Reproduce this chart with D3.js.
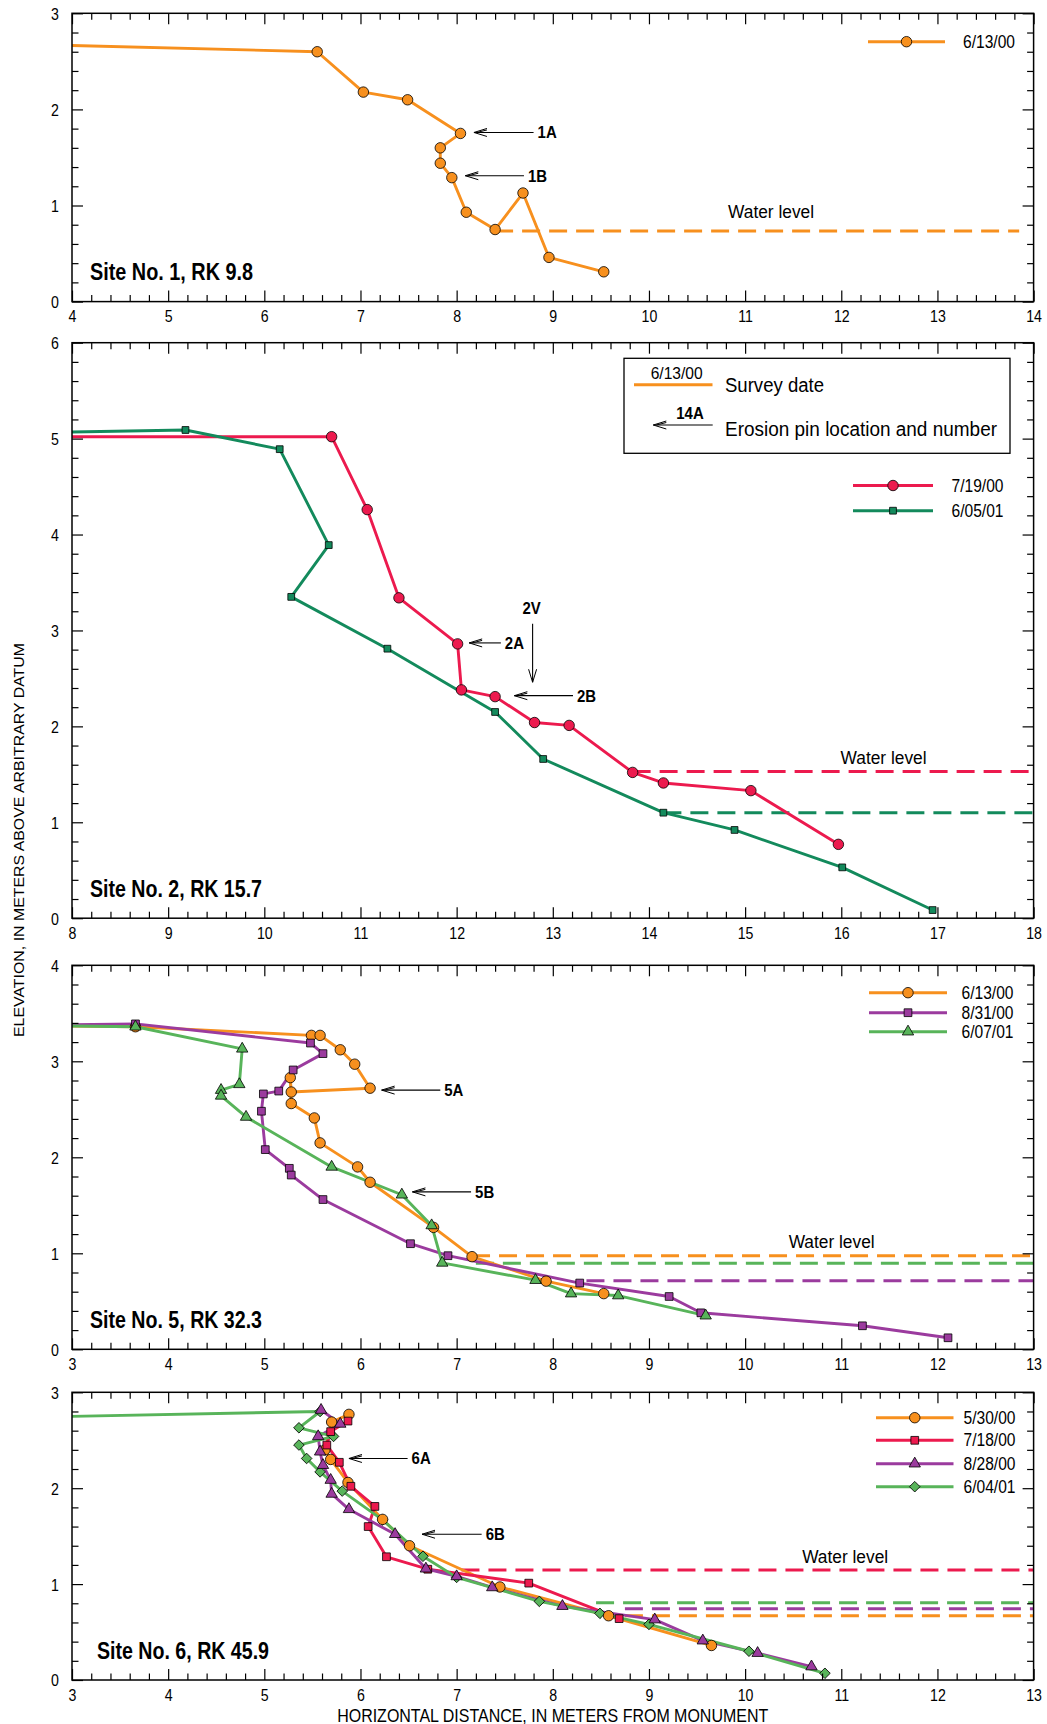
<!DOCTYPE html>
<html><head><meta charset="utf-8">
<script src="https://cdn.jsdelivr.net/npm/d3@7"></script>
<style>body{margin:0;background:#fff}</style>
</head><body>
<svg id="c" width="1047" height="1724" xmlns="http://www.w3.org/2000/svg"></svg>
<script>
// ---------- DATA ----------
// Site 1
const site1_061300 = [[3.9,2.668],[6.55,2.60],[7.03,2.18],[7.49,2.10],[8.04,1.75],[7.83,1.60],[7.83,1.44],[7.95,1.29],[8.10,0.93],[8.40,0.75],[8.69,1.13],[8.96,0.46],[9.53,0.31]];
const site1_water_061300 = [8.40, 13.85, 0.735];
const site1_pins = [["1A",8.18,8.80,1.76],["1B",8.09,8.70,1.31]];
// Site 2
const site2_071900 = [[7.8,5.02],[10.70,5.02],[11.07,4.26],[11.40,3.34],[12.01,2.86],[12.05,2.38],[12.40,2.31],[12.81,2.04],[13.17,2.01],[13.83,1.52],[14.15,1.41],[15.06,1.33],[15.97,0.77]];
const site2_060501 = [[7.8,5.065],[9.18,5.09],[10.16,4.89],[10.67,3.89],[10.28,3.35],[11.28,2.81],[12.40,2.15],[12.90,1.66],[14.15,1.10],[14.89,0.92],[16.01,0.53],[16.95,0.085]];
const site2_water_071900 = [13.83, 18, 1.53];
const site2_water_060501 = [14.15, 18, 1.10];
const site2_pins = [["2A",12.13,12.46,2.87],["2B",12.60,13.21,2.32]];
const site2_vpin = ["2V",12.79,3.07,2.46];
// Site 5
const site5_061300 = [[2.8,3.37],[3.66,3.36],[5.49,3.27],[5.58,3.27],[5.79,3.12],[5.94,2.97],[6.10,2.72],[5.28,2.68],[5.27,2.83],[5.28,2.56],[5.52,2.41],[5.58,2.15],[5.97,1.90],[6.10,1.74],[6.76,1.27],[7.16,0.965],[7.93,0.71],[8.53,0.58]];
const site5_083100 = [[2.8,3.38],[3.66,3.39],[5.48,3.19],[5.61,3.08],[5.30,2.91],[5.15,2.69],[4.99,2.66],[4.97,2.48],[5.01,2.08],[5.26,1.885],[5.28,1.815],[5.61,1.56],[6.52,1.10],[6.91,0.975],[8.28,0.69],[9.21,0.55],[9.54,0.38],[11.22,0.245],[12.11,0.12]];
const site5_060701 = [[2.8,3.37],[3.66,3.36],[4.77,3.13],[4.74,2.76],[4.55,2.70],[4.55,2.64],[4.81,2.42],[5.70,1.90],[6.43,1.61],[6.74,1.29],[6.85,0.90],[7.82,0.72],[8.19,0.58],[8.68,0.56],[9.59,0.35]];
const site5_water_061300 = [7.16, 13, 0.975];
const site5_water_083100 = [8.35, 13, 0.715];
const site5_water_060701 = [7.20, 13, 0.896];
const site5_pins = [["5A",6.22,6.83,2.70],["5B",6.54,7.15,1.64]];
// Site 6
const site6_053000 = [[5.88,2.77],[5.70,2.69],[5.63,2.40],[5.69,2.30],[5.87,2.06],[6.23,1.675],[6.51,1.40],[7.45,0.97],[8.58,0.67],[9.65,0.36]];
const site6_071800 = [[5.87,2.70],[5.69,2.59],[5.65,2.45],[5.78,2.27],[5.90,2.02],[6.15,1.81],[6.08,1.60],[6.27,1.285],[6.70,1.155],[7.75,1.01],[8.69,0.64]];
const site6_082800 = [[5.59,2.815],[5.79,2.67],[5.56,2.54],[5.58,2.38],[5.61,2.24],[5.69,2.085],[5.70,1.94],[5.88,1.78],[6.36,1.52],[6.68,1.16],[7.00,1.08],[7.37,0.965],[8.10,0.77],[9.06,0.63],[9.56,0.41],[10.13,0.28],[10.69,0.14]];
const site6_060401 = [[2.8,2.745],[5.58,2.80],[5.36,2.63],[5.72,2.54],[5.36,2.45],[5.44,2.31],[5.58,2.17],[5.81,1.97],[6.23,1.67],[6.65,1.29],[7.00,1.07],[7.86,0.82],[8.49,0.695],[9.00,0.58],[10.04,0.30],[10.83,0.07]];
const site6_water_053000 = [8.75, 13, 0.67];
const site6_water_071800 = [7.05, 13, 1.147];
const site6_water_082800 = [8.75, 13, 0.744];
const site6_water_060401 = [8.45, 13, 0.806];
const site6_pins = [["6A",5.88,6.49,2.31],["6B",6.64,7.26,1.52]];

const siteTitles = ["Site No. 1, RK 9.8","Site No. 2, RK 15.7","Site No. 5, RK 32.3","Site No. 6, RK 45.9"];
const waterLabelPos = [[11.27,0.93],[16.44,1.67],[10.90,1.12],[11.04,1.28]];

// ---------- STYLE ----------
const ORANGE="#F7901E", RED="#EC1A4E", DKGREEN="#138A5C", GREEN="#58B45A", PURPLE="#9B3B9E";
const SANS="'Liberation Sans',Arial,Helvetica,sans-serif";
const L=72, R=1033.6;

const panels = [
  {top:13.3,bottom:301.6,xd:[4,14],yd:[0,3],
   series:[{d:site1_061300,c:ORANGE,s:"circle",lab:"6/13/00",w:site1_water_061300}],
   pins:site1_pins, leg:{x0:868,x1:945,tx:963,ys:[41.7]}},
  {top:342.7,bottom:918.2,xd:[8,18],yd:[0,6],
   series:[{d:site2_071900,c:RED,s:"circle",lab:"7/19/00",w:site2_water_071900},
           {d:site2_060501,c:DKGREEN,s:"squareS",lab:"6/05/01",w:site2_water_060501}],
   pins:site2_pins, vpin:site2_vpin, leg:{x0:853,x1:933,tx:951.5,ys:[485.5,510.7]}, key:true},
  {top:965.3,bottom:1349.3,xd:[3,13],yd:[0,4],
   series:[{d:site5_061300,c:ORANGE,s:"circle",lab:"6/13/00",w:site5_water_061300},
           {d:site5_083100,c:PURPLE,s:"square",lab:"8/31/00",w:site5_water_083100},
           {d:site5_060701,c:GREEN,s:"triangle",lab:"6/07/01",w:site5_water_060701}],
   pins:site5_pins, leg:{x0:869,x1:947,tx:961.5,ys:[992.7,1012.7,1031.7]}},
  {top:1392.3,bottom:1680,xd:[3,13],yd:[0,3],
   series:[{d:site6_053000,c:ORANGE,s:"circle",lab:"5/30/00",w:site6_water_053000},
           {d:site6_071800,c:RED,s:"square",lab:"7/18/00",w:site6_water_071800},
           {d:site6_082800,c:PURPLE,s:"triangle",lab:"8/28/00",w:site6_water_082800},
           {d:site6_060401,c:GREEN,s:"diamond",lab:"6/04/01",w:site6_water_060401}],
   pins:site6_pins, leg:{x0:876,x1:953.5,tx:963.5,ys:[1417.7,1440.3,1463.7,1486.7]},
   markerOrder:[3,0,1,2]}
];

const svg=d3.select("#c");
svg.append("rect").attr("width",1047).attr("height",1724).attr("fill","#fff");

function ntext(g,x,y,str,size,sx,opts={}){
  const t=g.append("text").attr("transform",`translate(${x},${y}) scale(${sx},1)`)
    .attr("font-family",SANS).attr("font-size",size).attr("fill","#000").text(str);
  if(opts.bold) t.attr("font-weight","bold");
  if(opts.anchor) t.attr("text-anchor",opts.anchor);
  return t;
}

function symPath(s){
  if(s==="circle") return d3.symbol(d3.symbolCircle,86)();
  if(s==="square") return d3.symbol(d3.symbolSquare,60)();
  if(s==="squareS") return d3.symbol(d3.symbolSquare,46)();
  if(s==="triangle") return d3.symbol(d3.symbolTriangle,56)();
  if(s==="diamond") return d3.symbol(d3.symbolSquare,56)();
}
function drawMarker(g,s,c,px,py){
  g.append("path").attr("d",symPath(s))
   .attr("transform",`translate(${px},${py})`+(s==="diamond"?" rotate(45)":""))
   .attr("fill",c).attr("stroke","#000").attr("stroke-width",0.8);
}
function arrowLeft(g,x0,x1,yy){
  g.append("line").attr("x1",x0).attr("x2",x1).attr("y1",yy).attr("y2",yy).attr("stroke","#000").attr("stroke-width",1.1);
  g.append("path").attr("d",`M${x0+13},${yy-4}L${x0},${yy}L${x0+13},${yy+4}M${x0+13},${yy-2.5}L${x0+3},${yy}`)
   .attr("fill","none").attr("stroke","#000").attr("stroke-width",1);
}

panels.forEach((p,i)=>{
  const x=d3.scaleLinear().domain(p.xd).range([L,R]);
  const y=d3.scaleLinear().domain(p.yd).range([p.bottom,p.top]);
  const g=svg.append("g");
  const cid="clip"+i;
  svg.append("clipPath").attr("id",cid).append("rect")
    .attr("x",L).attr("y",p.top).attr("width",R-L).attr("height",p.bottom-p.top);
  const plot=g.append("g").attr("clip-path",`url(#${cid})`);

  p.series.forEach(s=>{
    plot.append("line").attr("x1",x(s.w[0])).attr("x2",x(s.w[1])).attr("y1",y(s.w[2])).attr("y2",y(s.w[2]))
      .attr("stroke",s.c).attr("stroke-width",3).attr("stroke-dasharray","18,9");
  });
  const line=d3.line().x(d=>x(d[0])).y(d=>y(d[1]));
  p.series.forEach(s=>{
    plot.append("path").attr("d",line(s.d)).attr("fill","none").attr("stroke",s.c)
      .attr("stroke-width",2.9).attr("stroke-linejoin","round");
  });
  const order=p.markerOrder||p.series.map((_,k)=>k);
  order.forEach(k=>{
    const s=p.series[k];
    s.d.forEach(d=>{ if(d[0]>p.xd[0]) drawMarker(plot,s.s,s.c,x(d[0]),y(d[1])); });
  });

  const minor=d3.range(p.xd[0],p.xd[1]+1e-6,0.2).filter(v=>Math.abs(v-Math.round(v))>1e-6);
  const major=d3.range(p.xd[0],p.xd[1]+1e-6,1);
  const yminor=d3.range(p.yd[0],p.yd[1]+1e-6,0.2).filter(v=>Math.abs(v-Math.round(v))>1e-6);
  const ymajor=d3.range(p.yd[0],p.yd[1]+1e-6,1);
  const ax=(gen,tr)=>{const a=g.append("g").attr("transform",tr).call(gen); a.select(".domain").remove(); a.selectAll("line").attr("stroke","#000").attr("stroke-width",1.2); return a;};
  ax(d3.axisBottom(x).tickValues(minor).tickSize(-6.5).tickFormat(""),`translate(0,${p.bottom})`);
  ax(d3.axisTop(x).tickValues(minor).tickSize(-6.5).tickFormat(""),`translate(0,${p.top})`);
  ax(d3.axisTop(x).tickValues(major).tickSize(-11).tickFormat(""),`translate(0,${p.top})`);
  const xb=ax(d3.axisBottom(x).tickValues(major).tickSize(-11).tickPadding(9).tickFormat(d3.format("d")),`translate(0,${p.bottom})`);
  xb.selectAll("text").attr("font-family",SANS).attr("font-size",16.5).attr("fill","#000").attr("transform","scale(0.86,1)");
  ax(d3.axisLeft(y).tickValues(yminor).tickSize(-6.5).tickFormat(""),`translate(${L},0)`);
  ax(d3.axisRight(y).tickValues(yminor).tickSize(-6.5).tickFormat(""),`translate(${R},0)`);
  ax(d3.axisRight(y).tickValues(ymajor).tickSize(-11).tickFormat(""),`translate(${R},0)`);
  const yl=ax(d3.axisLeft(y).tickValues(ymajor).tickSize(-11).tickPadding(13).tickFormat(d3.format("d")),`translate(${L},0)`);
  yl.selectAll("text").attr("font-family",SANS).attr("font-size",16.5).attr("fill","#000").attr("dy","0.36em")
    .attr("x",-13/0.86).attr("transform","scale(0.86,1)");
  g.selectAll(".tick").attr("font-size",null);
  g.append("rect").attr("x",L).attr("y",p.top).attr("width",R-L).attr("height",p.bottom-p.top)
    .attr("fill","none").attr("stroke","#000").attr("stroke-width",1.5);

  p.pins.forEach(pn=>{
    const x0=x(pn[1]), x1=x(pn[2]), yy=y(pn[3]);
    arrowLeft(g,x0,x1,yy);
    ntext(g,x1+4,yy+6,pn[0],17,0.88,{bold:true});
  });
  if(p.vpin){
    const vx=x(p.vpin[1]), yt=y(p.vpin[2]), yb=y(p.vpin[3]);
    g.append("line").attr("x1",vx).attr("x2",vx).attr("y1",yt).attr("y2",yb).attr("stroke","#000").attr("stroke-width",1.1);
    g.append("path").attr("d",`M${vx-4},${yb-13}L${vx},${yb}L${vx+4},${yb-13}`).attr("fill","none").attr("stroke","#000").attr("stroke-width",1);
    ntext(g,vx-1,yt-9.5,p.vpin[0],17,0.88,{bold:true,anchor:"middle"});
  }

  g.append("text").attr("x",x(waterLabelPos[i][0])).attr("y",y(waterLabelPos[i][1])+6)
   .attr("text-anchor","middle").attr("font-family",SANS).attr("font-size",17.5)
   .attr("textLength",86).attr("lengthAdjust","spacingAndGlyphs").text("Water level");

  g.append("text").attr("x",i===3?97:90).attr("y",p.bottom-21.5).text(siteTitles[i])
   .attr("font-family",SANS).attr("font-weight","bold").attr("font-size",23.5)
   .attr("textLength",i===0?163:172).attr("lengthAdjust","spacingAndGlyphs");

  p.series.forEach((s,k)=>{
    const ly=p.leg.ys[k];
    g.append("line").attr("x1",p.leg.x0).attr("x2",p.leg.x1).attr("y1",ly).attr("y2",ly).attr("stroke",s.c).attr("stroke-width",2.9);
    drawMarker(g,s.s,s.c,(p.leg.x0+p.leg.x1)/2,ly);
    g.append("text").attr("x",p.leg.tx).attr("y",ly+6).text(s.lab).attr("font-family",SANS).attr("font-size",17.5)
     .attr("textLength",52).attr("lengthAdjust","spacingAndGlyphs");
  });

  if(p.key){
    g.append("rect").attr("x",624).attr("y",358.3).attr("width",386).attr("height",95)
     .attr("fill","#fff").attr("stroke","#000").attr("stroke-width",1.3);
    g.append("text").attr("x",650.7).attr("y",379.3).text("6/13/00")
     .attr("font-family",SANS).attr("font-size",16.5).attr("textLength",52).attr("lengthAdjust","spacingAndGlyphs");
    g.append("line").attr("x1",634).attr("x2",712.5).attr("y1",384.7).attr("y2",384.7).attr("stroke",ORANGE).attr("stroke-width",2.9);
    g.append("text").attr("x",725).attr("y",392.3).text("Survey date")
     .attr("font-family",SANS).attr("font-size",20).attr("textLength",99).attr("lengthAdjust","spacingAndGlyphs");
    ntext(g,690,419,"14A",17,0.88,{bold:true,anchor:"middle"});
    arrowLeft(g,653.3,712.7,425);
    g.append("text").attr("x",725).attr("y",435.7).text("Erosion pin location and number")
     .attr("font-family",SANS).attr("font-size",20).attr("textLength",272).attr("lengthAdjust","spacingAndGlyphs");
  }
});

svg.append("text").attr("transform","translate(24,840) rotate(-90)").attr("text-anchor","middle")
  .attr("font-family",SANS).attr("font-size",14.5).attr("textLength",394).attr("lengthAdjust","spacingAndGlyphs")
  .text("ELEVATION, IN METERS ABOVE ARBITRARY DATUM");
svg.append("text").attr("x",552.7).attr("y",1721.5).attr("text-anchor","middle")
  .attr("font-family",SANS).attr("font-size",17.5).attr("textLength",431).attr("lengthAdjust","spacingAndGlyphs")
  .text("HORIZONTAL DISTANCE, IN METERS FROM MONUMENT");
</script>
</body></html>
